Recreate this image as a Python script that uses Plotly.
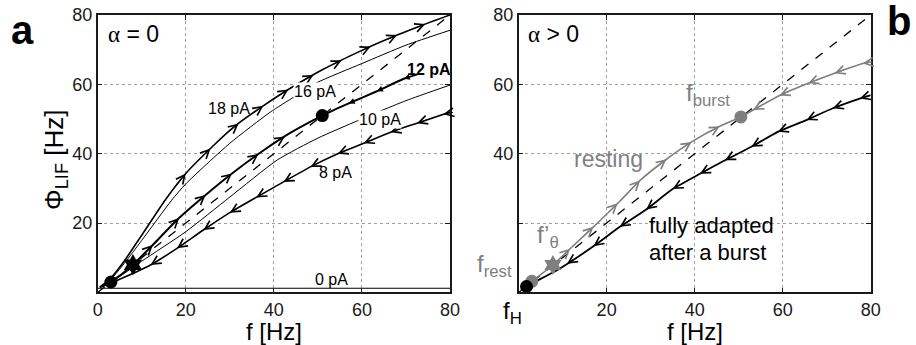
import numpy as np
import plotly.graph_objects as go

# ---------------- Panel a (alpha = 0) ----------------
f_18 = [0.5, 3, 6, 10, 15.3, 20, 25.6, 31, 37, 43, 51, 60, 68, 74, 80]
phi_18 = [1.5, 4.2, 9, 16.5, 26.6, 34.3, 41.5, 47.8, 53.3, 58.3, 64.2, 69.8, 74.2, 77.2, 80]
f_16 = [0.5, 3, 6, 10, 16.8, 20, 30, 39.2, 44.5, 49.8, 60, 70, 80]
phi_16 = [1.5, 3.8, 8.3, 15, 26.6, 31.3, 43, 52, 56.3, 60.5, 66, 71.3, 75.6]
f_12 = [0.5, 3, 5.5, 8, 13, 18, 24.5, 30.5, 37.7, 44, 51, 57, 63.4, 69.5, 72.5]
phi_12 = [1.5, 3, 5.3, 8, 14.3, 20.9, 28.1, 34.3, 41, 46.2, 51, 54.5, 58, 61.6, 62.8]
f_10 = [0.5, 5, 10, 20, 30, 40.8, 50, 59, 64, 70, 80]
phi_10 = [1.5, 4.6, 9, 17.5, 27.5, 38.2, 44.5, 49.5, 52.2, 55.3, 59.8]
f_8 = [0.5, 5, 12, 18, 24, 30, 41, 48.3, 54.5, 60.4, 66.5, 72.5, 80]
phi_8 = [1.5, 3.8, 7.9, 12.7, 18, 23, 31, 36.2, 40, 43, 46.2, 48.8, 52]
f_0 = [0, 80]
phi_0 = [1.2, 1.2]
diag = [0, 80]

arr_18 = [20, 25.6, 32, 37.6, 43.3, 49, 55.4, 62, 68, 74.4]
arr_12_up = [12.5, 18.5, 24.5, 30.5, 36.5, 42.5]
arr_12_down = [57, 63.4, 69.5]
arr_8 = [12, 18, 24, 30, 36, 42.2, 48.3, 54.5, 60.4, 66.5, 72.5, 78.5]

fix_a_f = [3, 51]
fix_a_phi = [3, 51]
star_a = [8, 8]

# ---------------- Panel b (alpha > 0) ----------------
f_rest_c = [3, 7.8, 11.7, 17, 23, 27.6, 33.6, 39.3, 45.7, 50.5, 53.3, 59.3, 65.8, 71.8, 78.2, 80]
phi_rest_c = [3.2, 7.9, 12.6, 18.9, 26.3, 32.3, 38.4, 43.4, 47.9, 50.6, 52.6, 56.8, 60.3, 63.2, 66, 66.5]
arr_rest_up = [11.7, 17, 22.5, 27.6, 33.6, 39.3, 45.7]
arr_rest_down = [53.3, 59.3, 65.8, 71.8, 78.2]
f_adapt = [1.8, 5, 9.4, 17, 23, 29, 35, 41.2, 46.9, 52.9, 58.9, 65.4, 71.4, 77.5, 80]
phi_adapt = [1.7, 3.9, 6.9, 13.3, 18.9, 23.9, 29.8, 34.2, 38.1, 42, 46.3, 49.7, 53.1, 55.9, 56.9]
arr_adapt = [11, 17, 23, 29, 35, 41.2, 46.9, 52.9, 58.9, 65.4, 71.4, 77.5]

fH = [1.8, 1.7]
frest = [3, 3.2]
ftheta = [7.8, 7.9]
fburst = [50.5, 50.6]

tick_a = [0, 20, 40, 60, 80]
GRAY = "#7f7f7f"
FONT = "Liberation Sans, Arial, sans-serif"

fig = go.Figure()


def line(x, y, xa, ya, color="black", width=1.0, dash=None):
    fig.add_trace(go.Scatter(x=x, y=y, mode="lines", xaxis=xa, yaxis=ya,
                             line=dict(color=color, width=width, dash=dash, shape="spline", smoothing=0.6),
                             hoverinfo="skip", showlegend=False))


def marker(x, y, xa, ya, symbol, color, size):
    fig.add_trace(go.Scatter(x=[x], y=[y], mode="markers", xaxis=xa, yaxis=ya,
                             marker=dict(symbol=symbol, color=color, size=size, line=dict(width=0)),
                             hoverinfo="skip", showlegend=False, cliponaxis=False))


def arrows(fx, fy, pos, direction, xr, yr, color="black", head=5, size=1.7, width=1.0):
    for p in pos:
        tail = p - direction * 2.5
        fig.add_annotation(x=p, y=float(np.interp(p, fx, fy)),
                           ax=tail, ay=float(np.interp(tail, fx, fy)),
                           xref=xr, yref=yr, axref=xr, ayref=yr, text="",
                           showarrow=True, arrowhead=head, arrowsize=size,
                           arrowwidth=width, arrowcolor=color, standoff=0)


# panel a curves
line(diag, diag, "x", "y", width=1.3, dash="dash")
line(f_0, phi_0, "x", "y", width=1.2)
line(f_18, phi_18, "x", "y", width=1.6)
line(f_16, phi_16, "x", "y", width=1.0)
line(f_12, phi_12, "x", "y", width=2.0)
line(f_10, phi_10, "x", "y", width=1.0)
line(f_8, phi_8, "x", "y", width=1.6)
marker(fix_a_f[0], fix_a_phi[0], "x", "y", "circle", "black", 13)
marker(fix_a_f[1], fix_a_phi[1], "x", "y", "circle", "black", 13)
marker(star_a[0], star_a[1], "x", "y", "hexagram", "black", 16)

arrows(f_18, phi_18, arr_18, 1, "x", "y")
arrows(f_12, phi_12, arr_12_up, 1, "x", "y")
arrows(f_12, phi_12, arr_12_down, -1, "x", "y", head=2, size=1.2)
arrows(f_8, phi_8, arr_8, -1, "x", "y")

# panel b curves
line(diag, diag, "x2", "y2", width=1.3, dash="dash")
line(f_rest_c, phi_rest_c, "x2", "y2", color=GRAY, width=1.6)
line(f_adapt, phi_adapt, "x2", "y2", width=1.8)
marker(frest[0], frest[1], "x2", "y2", "circle", GRAY, 13)
marker(fH[0], fH[1], "x2", "y2", "circle", "black", 13)
marker(ftheta[0], ftheta[1], "x2", "y2", "hexagram", GRAY, 15)
marker(fburst[0], fburst[1], "x2", "y2", "circle", GRAY, 13)

arrows(f_rest_c, phi_rest_c, arr_rest_up, 1, "x2", "y2", color=GRAY)
arrows(f_rest_c, phi_rest_c, arr_rest_down, -1, "x2", "y2", color=GRAY)
arrows(f_adapt, phi_adapt, arr_adapt, -1, "x2", "y2")


def lab(text, x, y, xr="x", yr="y", size=16, color="black", bg=None, xanchor="center"):
    fig.add_annotation(x=x, y=y, xref=xr, yref=yr, text=text, showarrow=False,
                       font=dict(family=FONT, size=size, color=color),
                       bgcolor=bg, borderpad=0, xanchor=xanchor, yanchor="middle")


lab("18 pA", 29.8, 53.1)
lab("16 pA", 49.4, 57.8, bg="white")
lab("<b>12 pA</b>", 75.3, 64.4)
lab("10 pA", 64.2, 50.0, bg="white")
lab("8 pA", 53.9, 34.6)
lab("0 pA", 53.2, 3.6)
lab('<span style="font-family:Liberation Serif">α</span> = 0', 8.2, 74.5, size=23)

lab('<span style="font-family:Liberation Serif">α</span> > 0', 8.0, 74.5, "x2", "y2", size=23)
lab("resting", 20.5, 38.6, "x2", "y2", size=23, color=GRAY)
lab("fully adapted", 29.4, 19.2, "x2", "y2", size=22, xanchor="left")
lab("after a burst", 29.4, 11.5, "x2", "y2", size=22, xanchor="left")
lab("f<sub>burst</sub>", 43.0, 57.0, "x2", "y2", size=24, color=GRAY)
lab("f’<sub>θ</sub>", 6.7, 16.0, "x2", "y2", size=24, color=GRAY)


def plab(text, px, py, size, color="black", angle=0):
    fig.add_annotation(x=px / 916, y=1 - py / 345, xref="paper", yref="paper", text=text,
                       showarrow=False, xanchor="center", yanchor="middle", textangle=angle,
                       font=dict(family=FONT, size=size, color=color))


plab("<b>a</b>", 22, 30, 40)
plab("<b>b</b>", 899, 21, 40)
plab("f [Hz]", 274, 331, 24)
plab("f [Hz]", 695, 331, 24)
plab("Φ<sub>LIF</sub> [Hz]", 55, 160, 26, angle=-90)
plab("f<sub>rest</sub>", 495, 265, 24, color=GRAY)
plab("f<sub>H</sub>", 512, 312, 24)

axis_common = dict(range=[0, 80], showline=True, mirror="ticks", linecolor="#1a1a1a", linewidth=1.5,
                   ticks="inside", ticklen=5, tickwidth=1, tickcolor="#1a1a1a",
                   showgrid=True, gridcolor="#a0a0a0", griddash="dot", gridwidth=1,
                   zeroline=False, tickfont=dict(family=FONT, size=18, color="#1a1a1a"),
                   automargin=False, fixedrange=True)

fig.update_layout(
    width=916, height=345, margin=dict(l=0, r=0, t=0, b=0, pad=0, autoexpand=False),
    paper_bgcolor="white", plot_bgcolor="white",
    xaxis=dict(domain=[97.7 / 916, 450 / 916], anchor="y", tickvals=tick_a, **axis_common),
    yaxis=dict(domain=[1 - 292.4 / 345, 1 - 15 / 345], anchor="x", tickvals=tick_a[1:], **axis_common),
    xaxis2=dict(domain=[518.6 / 916, 870.7 / 916], anchor="y2", tickvals=tick_a[1:], **axis_common),
    yaxis2=dict(domain=[1 - 292.4 / 345, 1 - 15 / 345], anchor="x2", tickvals=tick_a[1:],
                ticktext=["", "40", "60", "80"], **axis_common),
)

fig.write_html("out.html", config={"displayModeBar": False},
               post_script="document.body.style.margin='0px';")
